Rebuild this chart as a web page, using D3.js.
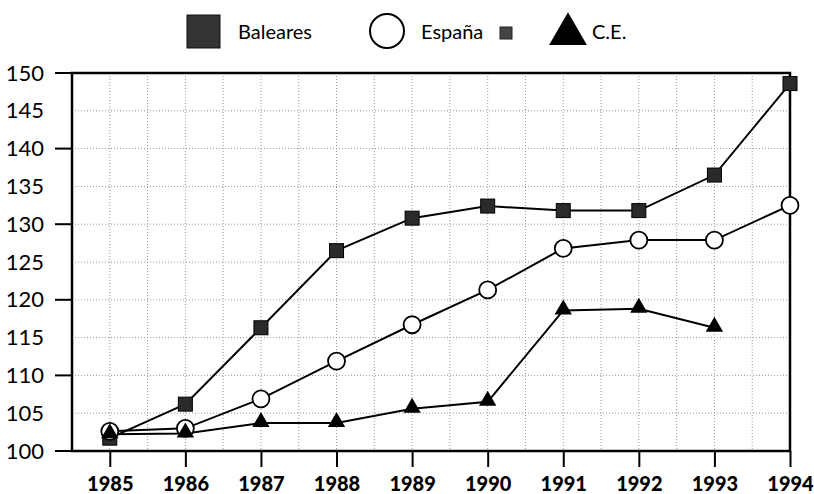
<!DOCTYPE html>
<html>
<head>
<meta charset="utf-8">
<script src="https://cdn.jsdelivr.net/npm/d3@7"></script>
<style>
  body { margin: 0; background: #fff; }
  svg { display: block; font-family: Lato, "Open Sans", sans-serif; }
</style>
</head>
<body>
<script>
// values (index, 1985 = 100)
var years = [1985, 1986, 1987, 1988, 1989, 1990, 1991, 1992, 1993, 1994];
var baleares = [101.7, 106.2, 116.3, 126.5, 130.8, 132.4, 131.8, 131.8, 136.5, 148.6];
var espana = [102.6, 103.0, 106.9, 111.9, 116.7, 121.3, 126.8, 127.9, 127.9, 132.5];
var ce = [102.2, 102.3, 103.7, 103.7, 105.6, 106.5, 118.6, 118.8, 116.3, null];
var yTicks = [100, 105, 110, 115, 120, 125, 130, 135, 140, 145, 150];
var seriesNames = ["Baleares", "España", "C.E."];

var W = 814, H = 494;
var margin = {top: 73, right: 24, bottom: 43, left: 72};

var svg = d3.select("body").append("svg")
    .attr("width", W)
    .attr("height", H);

var x = d3.scaleLinear()
    .domain([1984.5, 1994])
    .range([margin.left, W - margin.right]);

var y = d3.scaleLinear()
    .domain([100, 150])
    .range([H - margin.bottom, margin.top]);

// dotted grid, every half year and every 5 points
var grid = svg.append("g").attr("stroke", "#999").attr("stroke-width", 1)
    .attr("stroke-dasharray", "1,2");
grid.selectAll("line.v")
    .data(d3.range(1985, 1994, 0.5))
    .enter().append("line")
    .attr("x1", function(d) { return x(d); })
    .attr("x2", function(d) { return x(d); })
    .attr("y1", y(150)).attr("y2", y(100));
grid.selectAll("line.h")
    .data(yTicks.slice(1, -1))
    .enter().append("line")
    .attr("y1", function(d) { return y(d); })
    .attr("y2", function(d) { return y(d); })
    .attr("x1", x(1984.5)).attr("x2", x(1994));

// y axis: long ticks every 10, labels every 5
var yAxis = svg.append("g")
    .attr("transform", "translate(" + margin.left + ",0)")
    .call(d3.axisLeft(y).tickValues(yTicks).tickSize(0).tickPadding(28)
        .tickFormat(d3.format("d")));
yAxis.select(".domain").remove();
yAxis.selectAll("text")
    .attr("font-size", 22)
    .attr("fill", "#000")
    .attr("font-family", "Lato, sans-serif");
svg.append("g").selectAll("line")
    .data(yTicks.filter(function(d) { return d % 10 === 0; }))
    .enter().append("line")
    .attr("x1", margin.left - 17).attr("x2", margin.left)
    .attr("y1", function(d) { return y(d); })
    .attr("y2", function(d) { return y(d); })
    .attr("stroke", "#000").attr("stroke-width", 2);

// x axis
var xAxis = svg.append("g")
    .attr("transform", "translate(0," + y(100) + ")")
    .call(d3.axisBottom(x).tickValues(years).tickSize(16).tickPadding(10)
        .tickFormat(d3.format("d")));
xAxis.select(".domain").remove();
xAxis.selectAll("line").attr("stroke", "#000").attr("stroke-width", 2);
xAxis.selectAll("text")
    .attr("font-size", 20)
    .attr("font-weight", "900")
    .attr("fill", "#000")
    .attr("font-family", "Lato, sans-serif");

// frame
svg.append("rect")
    .attr("x", x(1984.5)).attr("y", y(150))
    .attr("width", x(1994) - x(1984.5))
    .attr("height", y(100) - y(150))
    .attr("fill", "none").attr("stroke", "#000").attr("stroke-width", 2.5);

var line = d3.line()
    .defined(function(d) { return d[1] != null; })
    .x(function(d) { return x(d[0]); })
    .y(function(d) { return y(d[1]); });

function pairs(vals) {
    return years.map(function(yr, i) { return [yr, vals[i]]; })
        .filter(function(d) { return d[1] != null; });
}

[baleares, espana, ce].forEach(function(vals) {
    svg.append("path")
        .datum(pairs(vals))
        .attr("d", line)
        .attr("fill", "none")
        .attr("stroke", "#000")
        .attr("stroke-width", 2);
});

// markers
svg.append("g").selectAll("rect")
    .data(pairs(baleares))
    .enter().append("rect")
    .attr("x", function(d) { return x(d[0]) - 7; })
    .attr("y", function(d) { return y(d[1]) - 7; })
    .attr("width", 14).attr("height", 14)
    .attr("fill", "#2a2a2a").attr("stroke", "#000").attr("stroke-width", 1);

svg.append("g").selectAll("circle")
    .data(pairs(espana))
    .enter().append("circle")
    .attr("cx", function(d) { return x(d[0]); })
    .attr("cy", function(d) { return y(d[1]); })
    .attr("r", 8.5)
    .attr("fill", "#fff").attr("stroke", "#000").attr("stroke-width", 1.8);

var tri = d3.symbol().type(d3.symbolTriangle).size(130);
svg.append("g").selectAll("path")
    .data(pairs(ce))
    .enter().append("path")
    .attr("d", tri)
    .attr("transform", function(d) {
        return "translate(" + x(d[0]) + "," + (y(d[1]) - 1) + ")";
    })
    .attr("fill", "#000");

// legend
var lg = svg.append("g").attr("font-size", 20).attr("fill", "#000");
lg.append("rect")
    .attr("x", 187).attr("y", 15).attr("width", 33).attr("height", 33)
    .attr("fill", "#333").attr("stroke", "#111");
lg.append("text").attr("x", 238).attr("y", 39).text(seriesNames[0]);
lg.append("circle")
    .attr("cx", 387).attr("cy", 31).attr("r", 17)
    .attr("fill", "#fff").attr("stroke", "#000").attr("stroke-width", 2);
lg.append("text").attr("x", 421).attr("y", 39).text(seriesNames[1]);
lg.append("rect")
    .attr("x", 500).attr("y", 27).attr("width", 12).attr("height", 12)
    .attr("fill", "#444").attr("stroke", "#222");
lg.append("path")
    .attr("d", d3.symbol().type(d3.symbolTriangle).size(620))
    .attr("transform", "translate(568,34)")
    .attr("fill", "#000");
lg.append("text").attr("x", 592).attr("y", 39).text(seriesNames[2]);
</script>
</body>
</html>
